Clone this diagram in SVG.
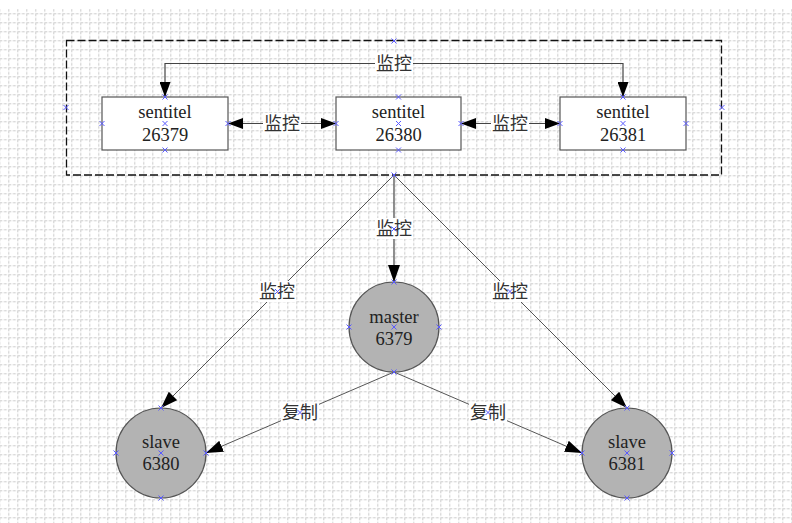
<svg xmlns="http://www.w3.org/2000/svg" width="792" height="523" viewBox="0 0 792 523">
<style>
.grid{stroke:#cccccc;stroke-width:1;stroke-dasharray:3 1.5;fill:none}
.frame{fill:none;stroke:#111;stroke-width:1.3;stroke-dasharray:8 3}
.box{fill:#fff;stroke:#555;stroke-width:1.2}
.circ{fill:#b3b3b3;stroke:#555;stroke-width:1.2}
.t{font-family:"Liberation Serif","Noto Sans CJK SC",serif;font-size:18.5px;fill:#222;text-anchor:middle}
.lbl{font-family:"Liberation Serif","Noto Sans CJK SC",serif;font-size:18px;fill:#333;text-anchor:middle}
.lb{fill:#fff;stroke:none}
.c{stroke:#444;stroke-width:1.2;fill:none}
.cd{stroke:#555;stroke-width:1;fill:none}
.mk{stroke:#5a5aff;stroke-width:1;fill:none}
</style>
<defs>
<pattern id="gp" x="8.3" y="13.3" width="9" height="9" patternUnits="userSpaceOnUse">
<path class="grid" d="M0.5,0 V9 M0,0.5 H9"/>
</pattern>
<marker id="ah" viewBox="0 0 15 11" refX="15" refY="5.5" markerWidth="15" markerHeight="11" markerUnits="userSpaceOnUse" orient="auto-start-reverse">
<path d="M0,0 L15,5.5 L0,11 z" fill="#000"/>
</marker>
<marker id="ahl" viewBox="0 0 17 12" refX="17" refY="6" markerWidth="17" markerHeight="12" markerUnits="userSpaceOnUse" orient="auto">
<path d="M0,0 L17,6 L0,12 z" fill="#000"/>
</marker>
<path id="x" class="mk" d="M-2.5,-2.5 L2.5,2.5 M-2.5,2.5 L2.5,-2.5"/>
</defs>
<rect x="0" y="0" width="792" height="523" fill="#fff"/>
<rect x="0" y="9" width="792" height="514" fill="url(#gp)"/>

<g id="sentinel-group">
<rect class="frame" x="66.5" y="40.5" width="655" height="134.5"/>
</g>

<g id="connectors">
<path class="c" d="M165,97 V63.5 H623 V97" marker-start="url(#ah)" marker-end="url(#ah)"/>
<line class="c" x1="228" y1="123.5" x2="336" y2="123.5" marker-start="url(#ah)" marker-end="url(#ah)"/>
<line class="c" x1="461" y1="123.5" x2="560" y2="123.5" marker-start="url(#ah)" marker-end="url(#ah)"/>
<line class="c" x1="394" y1="175" x2="394" y2="282" marker-end="url(#ahl)"/>
<line class="cd" x1="394" y1="175" x2="161" y2="408" marker-end="url(#ahl)"/>
<line class="cd" x1="394" y1="175" x2="627" y2="408" marker-end="url(#ahl)"/>
<line class="cd" x1="394" y1="372" x2="206" y2="453" marker-end="url(#ahl)"/>
<line class="cd" x1="394" y1="372" x2="582" y2="453" marker-end="url(#ahl)"/>
<g id="labels">
<rect class="lb" x="375" y="53" width="38" height="21"/><text class="lbl" x="394" y="70">监控</text>
<rect class="lb" x="263" y="113" width="38" height="21"/><text class="lbl" x="282" y="130">监控</text>
<rect class="lb" x="491" y="113" width="38" height="21"/><text class="lbl" x="510" y="130">监控</text>
<rect class="lb" x="375" y="218" width="38" height="21"/><text class="lbl" x="394" y="235">监控</text>
<rect class="lb" x="258" y="281" width="38" height="21"/><text class="lbl" x="277" y="298">监控</text>
<rect class="lb" x="491" y="281" width="38" height="21"/><text class="lbl" x="510" y="298">监控</text>
<rect class="lb" x="281" y="402" width="38" height="21"/><text class="lbl" x="300" y="419">复制</text>
<rect class="lb" x="469" y="402" width="38" height="21"/><text class="lbl" x="488" y="419">复制</text>
</g>
</g>

<g id="sentinel-26379">
<rect class="box" x="102" y="97" width="126" height="53"/>
<text class="t" x="165" y="118">sentitel</text>
<text class="t" x="165" y="141">26379</text>
</g>
<g id="sentinel-26380">
<rect class="box" x="336" y="97" width="125" height="53"/>
<text class="t" x="398.5" y="118">sentitel</text>
<text class="t" x="398.5" y="141">26380</text>
</g>
<g id="sentinel-26381">
<rect class="box" x="560" y="97" width="126" height="53"/>
<text class="t" x="623" y="118">sentitel</text>
<text class="t" x="623" y="141">26381</text>
</g>
<g id="master-6379">
<circle class="circ" cx="394" cy="327" r="45"/>
<text class="t" x="394" y="323">master</text>
<text class="t" x="394" y="345">6379</text>
</g>
<g id="slave-6380">
<circle class="circ" cx="161" cy="453" r="45"/>
<text class="t" x="161" y="448">slave</text>
<text class="t" x="161" y="470">6380</text>
</g>
<g id="slave-6381">
<circle class="circ" cx="627" cy="453" r="45"/>
<text class="t" x="627" y="448">slave</text>
<text class="t" x="627" y="470">6381</text>
</g>

<g id="anchor-marks">
<use href="#x" x="394" y="41"/><use href="#x" x="66" y="107.5"/><use href="#x" x="722" y="107.5"/><use href="#x" x="394" y="175"/>
<use href="#x" x="165" y="97"/><use href="#x" x="102" y="123.5"/><use href="#x" x="165" y="123.5"/><use href="#x" x="228" y="123.5"/><use href="#x" x="165" y="150"/>
<use href="#x" x="398.5" y="97"/><use href="#x" x="336" y="123.5"/><use href="#x" x="398.5" y="123.5"/><use href="#x" x="461" y="123.5"/><use href="#x" x="398.5" y="150"/>
<use href="#x" x="623" y="97"/><use href="#x" x="560" y="123.5"/><use href="#x" x="623" y="123.5"/><use href="#x" x="686" y="123.5"/><use href="#x" x="623" y="150"/>
<use href="#x" x="394" y="282"/><use href="#x" x="349" y="327"/><use href="#x" x="394" y="327"/><use href="#x" x="439" y="327"/><use href="#x" x="394" y="372"/>
<use href="#x" x="161" y="408"/><use href="#x" x="116" y="453"/><use href="#x" x="161" y="453"/><use href="#x" x="206" y="453"/><use href="#x" x="161" y="498"/>
<use href="#x" x="627" y="408"/><use href="#x" x="582" y="453"/><use href="#x" x="627" y="453"/><use href="#x" x="672" y="453"/><use href="#x" x="627" y="498"/>
<use href="#x" x="394" y="229"/><use href="#x" x="277.5" y="291.5"/><use href="#x" x="510" y="291.5"/><use href="#x" x="300" y="412.5"/><use href="#x" x="488" y="412.5"/>
</g>
</svg>
